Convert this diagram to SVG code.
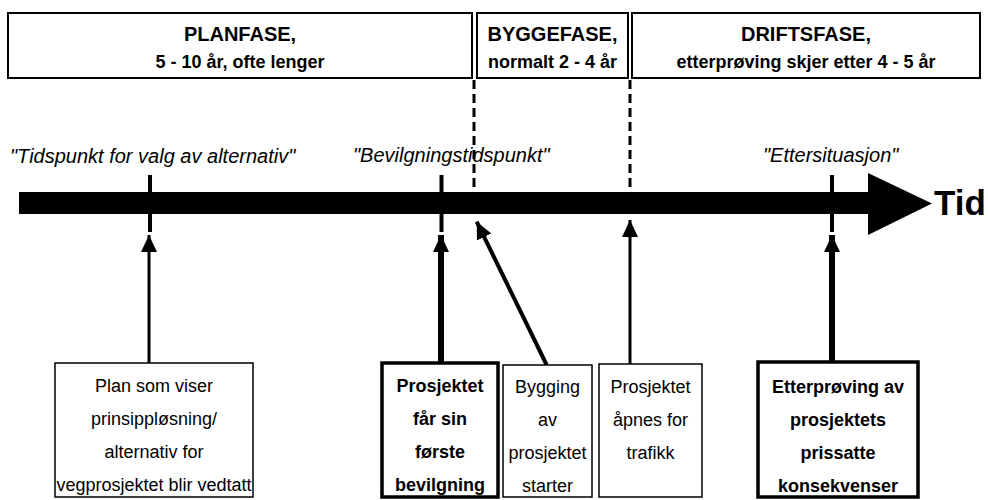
<svg xmlns="http://www.w3.org/2000/svg" width="988" height="500" viewBox="0 0 988 500">
<style>
  text { font-family: "Liberation Sans", Arial, sans-serif; fill: #000; text-anchor: middle; }
  .ph { font-size: 20px; font-weight: bold; }
  .ps { font-size: 18px; font-weight: bold; }
  .lbl { font-size: 20px; font-style: italic; text-anchor: start; }
  .reg { font-size: 18px; }
  .bld { font-size: 18px; font-weight: bold; }
  .tid { font-size: 35px; font-weight: bold; text-anchor: start; }
  .phase { fill: #fff; stroke: #000; stroke-width: 2; }
  .box { fill: #fff; stroke: #000; stroke-width: 1.5; }
  .boxb { fill: #fff; stroke: #000; stroke-width: 3.5; }
  .dash { stroke: #000; stroke-width: 3; stroke-dasharray: 9 5; fill: none; }
  .tick { stroke: #000; stroke-width: 4; }
  .conn { stroke: #000; fill: none; marker-end: url(#ah); }
</style>
<defs>
  <marker id="ah" markerUnits="userSpaceOnUse" markerWidth="18" markerHeight="18" viewBox="0 0 18 18" refX="17" refY="9" orient="auto">
    <path d="M0,1 L17,9 L0,17 Z" fill="#000"/>
  </marker>
</defs>
<rect width="988" height="500" fill="#fff"/>

<g id="planfase">
  <rect class="phase" x="8" y="13" width="464" height="65"/>
  <text class="ph" x="240" y="41">PLANFASE,</text>
  <text class="ps" x="240" y="68">5 - 10 år, ofte lenger</text>
</g>
<g id="byggefase">
  <rect class="phase" x="477" y="13" width="151" height="65"/>
  <text class="ph" x="552.5" y="41">BYGGEFASE,</text>
  <text class="ps" x="552.5" y="68">normalt 2 - 4 år</text>
</g>
<g id="driftsfase">
  <rect class="phase" x="632" y="13" width="348" height="65"/>
  <text class="ph" x="806" y="41">DRIFTSFASE,</text>
  <text class="ps" x="806" y="68">etterprøving skjer etter 4 - 5 år</text>
</g>

<g id="dividers">
  <line class="dash" x1="474" y1="80" x2="474" y2="192"/>
  <line class="dash" x1="630" y1="80" x2="630" y2="192"/>
</g>

<g id="timeline">
  <rect x="19" y="192" width="851" height="22" fill="#000"/>
  <polygon points="868,173 932,203.5 868,235" fill="#000"/>
  <text class="tid" x="934" y="215">Tid</text>
  <line class="tick" x1="150" y1="175" x2="150" y2="232"/>
  <line class="tick" x1="441.5" y1="175" x2="441.5" y2="232"/>
  <line class="tick" x1="832" y1="175" x2="832" y2="232"/>
</g>

<g id="labels">
  <text class="lbl" x="10" y="163">"Tidspunkt for valg av alternativ"</text>
  <text class="lbl" x="353" y="162">"Bevilgningstidspunkt"</text>
  <text class="lbl" x="763" y="162">"Ettersituasjon"</text>
</g>

<g id="connectors">
  <line class="conn" x1="149" y1="363" x2="149" y2="235" stroke-width="3"/>
  <line class="conn" x1="441" y1="363" x2="441" y2="235" stroke-width="6"/>
  <line class="conn" x1="546.7" y1="365" x2="476.7" y2="221.7" stroke-width="4"/>
  <line class="conn" x1="630" y1="364" x2="630" y2="220" stroke-width="3"/>
  <line class="conn" x1="832" y1="362" x2="832" y2="235" stroke-width="6"/>
</g>

<g id="box-plan">
  <rect class="box" x="55" y="363" width="198" height="134"/>
  <text class="reg" x="154" y="392">Plan som viser</text>
  <text class="reg" x="154" y="425">prinsippløsning/</text>
  <text class="reg" x="154" y="458">alternativ for</text>
  <text class="reg" x="154" y="491">vegprosjektet blir vedtatt</text>
</g>
<g id="box-bevilgning">
  <rect class="boxb" x="382" y="363" width="116" height="134"/>
  <text class="bld" x="440" y="392">Prosjektet</text>
  <text class="bld" x="440" y="425">får sin</text>
  <text class="bld" x="440" y="458">første</text>
  <text class="bld" x="440" y="491">bevilgning</text>
</g>
<g id="box-bygging">
  <rect class="box" x="503" y="365" width="89" height="132"/>
  <text class="reg" x="547.5" y="393">Bygging</text>
  <text class="reg" x="547.5" y="426">av</text>
  <text class="reg" x="547.5" y="459">prosjektet</text>
  <text class="reg" x="547.5" y="492">starter</text>
</g>
<g id="box-apnes">
  <rect class="box" x="599" y="364" width="103" height="133"/>
  <text class="reg" x="650.5" y="393">Prosjektet</text>
  <text class="reg" x="650.5" y="426">åpnes for</text>
  <text class="reg" x="650.5" y="459">trafikk</text>
</g>
<g id="box-etterproving">
  <rect class="boxb" x="758" y="362" width="160" height="135"/>
  <text class="bld" x="838" y="393">Etterprøving av</text>
  <text class="bld" x="838" y="426">prosjektets</text>
  <text class="bld" x="838" y="459">prissatte</text>
  <text class="bld" x="838" y="492">konsekvenser</text>
</g>
</svg>
